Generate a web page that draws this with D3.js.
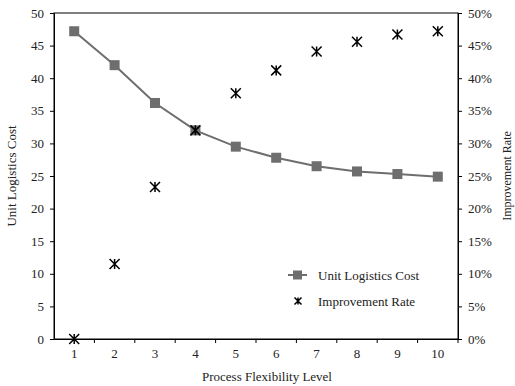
<!DOCTYPE html>
<html>
<head>
<meta charset="utf-8">
<script src="https://cdn.jsdelivr.net/npm/d3@7"></script>
<style>
  body { margin: 0; background: #fff; }
  svg text { font-family: "Liberation Serif", "Times New Roman", serif; fill: #222; }
</style>
</head>
<body>
<svg id="chart" width="515" height="386"></svg>
<script>
    let levels = [1, 2, 3, 4, 5, 6, 7, 8, 9, 10];
    let unitCost = [47.2, 42.0, 36.2, 32.0, 29.5, 27.8, 26.5, 25.7, 25.3, 24.9];
    let improvement = [0, 0.115, 0.233, 0.32, 0.377, 0.412, 0.441, 0.456, 0.467, 0.472];
    let leftTicks = [0, 5, 10, 15, 20, 25, 30, 35, 40, 45, 50];
    let rightTicks = [0, 0.05, 0.10, 0.15, 0.20, 0.25, 0.30, 0.35, 0.40, 0.45, 0.50];

    let margin = { left: 54, right: 57, top: 13, bottom: 47 };
    let width = 515, height = 386;
    let innerW = width - margin.left - margin.right;
    let innerH = height - margin.top - margin.bottom;

    let svg = d3.select('#chart');
    let g = svg.append('g')
        .attr('transform', 'translate(' + margin.left + ',' + margin.top + ')');

    let x = d3.scaleBand().domain(levels).range([0, innerW]);
    let yLeft = d3.scaleLinear().domain([0, 50]).range([innerH, 0]);
    let yRight = d3.scaleLinear().domain([0, 0.5]).range([innerH, 0]);
    let cx = function (d) { return x(d) + x.bandwidth() / 2; };

    // frame
    g.append('rect')
        .attr('width', innerW).attr('height', innerH)
        .style('fill', 'none').style('stroke', '#000').style('stroke-width', 1);

    // left axis
    let leftAxis = g.append('g')
        .call(d3.axisLeft(yLeft).tickValues(leftTicks).tickSize(4).tickPadding(6));
    // right axis
    let rightAxis = g.append('g')
        .attr('transform', 'translate(' + innerW + ',0)')
        .call(d3.axisRight(yRight).tickValues(rightTicks).tickSize(4).tickPadding(6)
            .tickFormat(d3.format('.0%')));
    // bottom axis: ticks between categories, labels at centers
    let bottomAxis = g.append('g')
        .attr('transform', 'translate(0,' + innerH + ')')
        .call(d3.axisBottom(x).tickSize(0).tickPadding(10));
    bottomAxis.selectAll('.tick line').remove();
    bottomAxis.selectAll('.sep')
        .data(levels.slice(1).concat(['end']))
        .enter()
        .append('line')
        .attr('x1', function (d) { return d === 'end' ? innerW : x(d); })
        .attr('x2', function (d) { return d === 'end' ? innerW : x(d); })
        .attr('y1', 0).attr('y2', 4)
        .style('stroke', '#000');

    [leftAxis, rightAxis, bottomAxis].forEach(function (a) {
        a.select('.domain').style('stroke', '#000');
        a.selectAll('.tick line').style('stroke', '#000');
        a.selectAll('text')
            .style('font-family', '"Liberation Serif", serif')
            .style('font-size', '13px')
            .style('fill', '#222');
    });

    // cost line
    let line = d3.line()
        .x(function (d, i) { return cx(levels[i]); })
        .y(function (d) { return yLeft(d); });
    g.append('path')
        .datum(unitCost)
        .attr('d', line)
        .style('fill', 'none')
        .style('stroke', '#6e6e6e')
        .style('stroke-width', 2);

    let sq = 10;
    g.selectAll('.cost')
        .data(unitCost)
        .enter()
        .append('rect')
        .attr('x', function (d, i) { return cx(levels[i]) - sq / 2; })
        .attr('y', function (d) { return yLeft(d) - sq / 2; })
        .attr('width', sq).attr('height', sq)
        .style('fill', '#6e6e6e');

    function asterisk(sel, r) {
        sel.append('path')
            .attr('d', 'M' + (-r) + ',' + (-r) + 'L' + r + ',' + r +
                'M' + (-r) + ',' + r + 'L' + r + ',' + (-r) +
                'M0,' + (-r) + 'L0,' + r)
            .style('stroke', '#000')
            .style('stroke-width', 1.5)
            .style('fill', 'none');
    }

    g.selectAll('.imp')
        .data(improvement)
        .enter()
        .append('g')
        .attr('transform', function (d, i) {
            return 'translate(' + cx(levels[i]) + ',' + yRight(d) + ')';
        })
        .each(function () { asterisk(d3.select(this), 5); });

    // legend
    let legend = svg.append('g').attr('transform', 'translate(288,275)');
    legend.append('line')
        .attr('x1', 0).attr('x2', 19).attr('y1', 0).attr('y2', 0)
        .style('stroke', '#6e6e6e').style('stroke-width', 2);
    legend.append('rect')
        .attr('x', 5).attr('y', -4.5).attr('width', 9).attr('height', 9)
        .style('fill', '#6e6e6e');
    legend.append('text')
        .attr('x', 30).attr('y', 0).attr('dy', '0.35em')
        .style('font-size', '13px')
        .text('Unit Logistics Cost');
    let leg2 = legend.append('g').attr('transform', 'translate(10,26)');
    asterisk(leg2, 3.5);
    legend.append('text')
        .attr('x', 30).attr('y', 26).attr('dy', '0.35em')
        .style('font-size', '13px')
        .text('Improvement Rate');

    // axis titles
    svg.append('text')
        .attr('transform', 'translate(16,' + (margin.top + innerH / 2) + ') rotate(-90)')
        .attr('text-anchor', 'middle')
        .style('font-size', '13px')
        .text('Unit Logistics Cost');
    svg.append('text')
        .attr('transform', 'translate(511,' + (margin.top + innerH / 2) + ') rotate(-90)')
        .attr('text-anchor', 'middle')
        .style('font-size', '12px')
        .text('Improvement Rate');
    svg.append('text')
        .attr('x', 267)
        .attr('y', 381)
        .attr('text-anchor', 'middle')
        .style('font-size', '13px')
        .text('Process Flexibility Level');
</script>
</body>
</html>
